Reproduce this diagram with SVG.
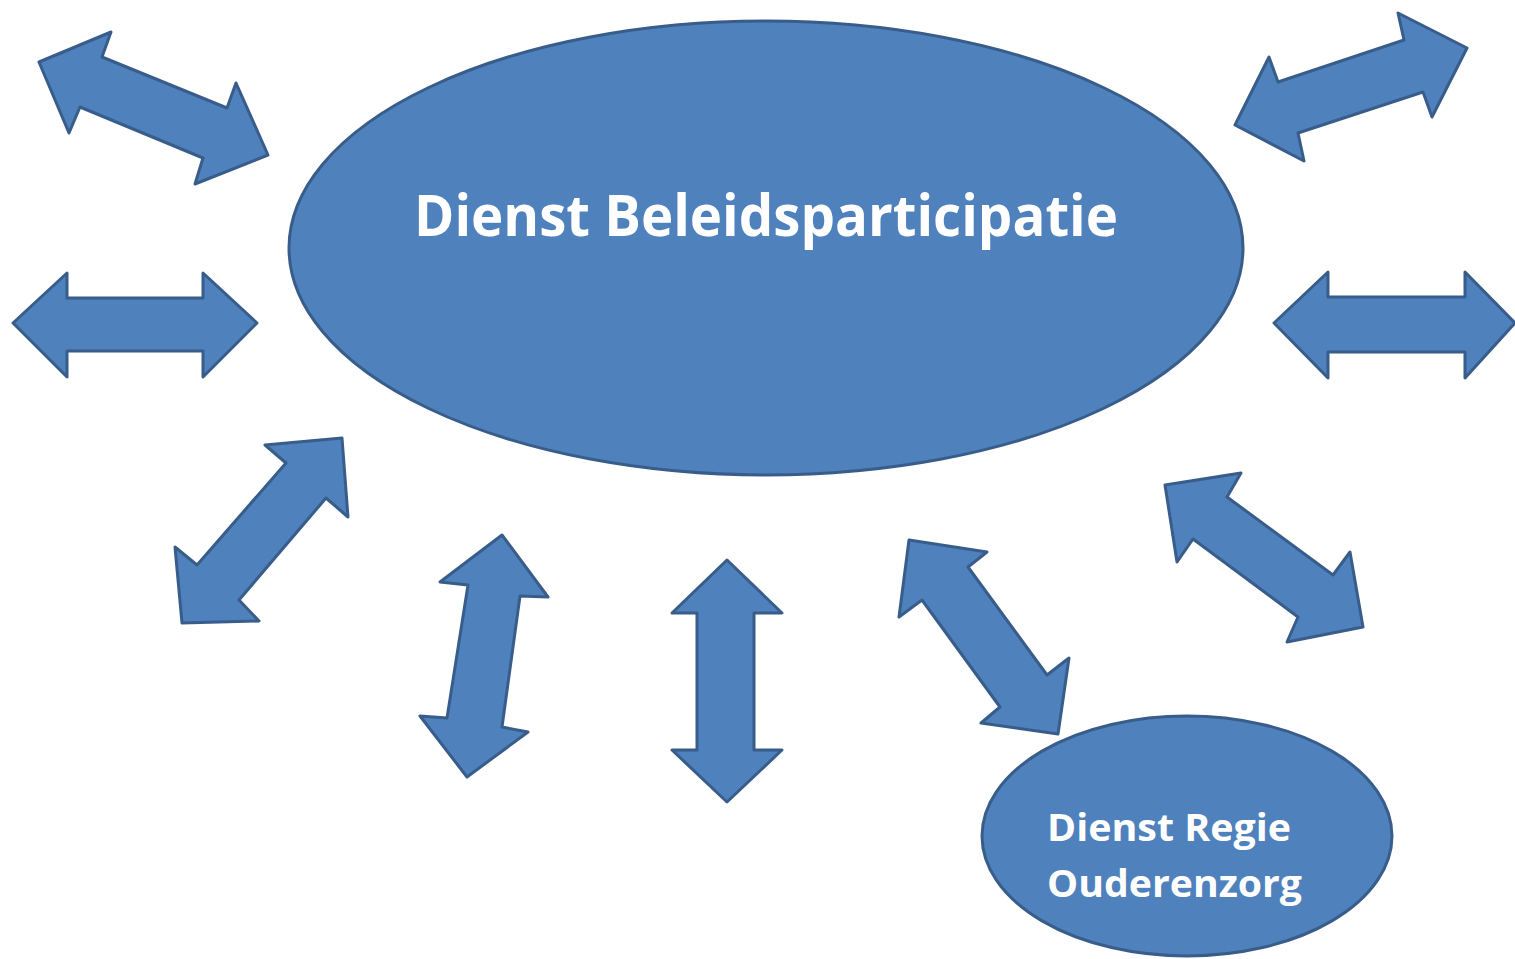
<svg xmlns="http://www.w3.org/2000/svg" width="1515" height="959" viewBox="0 0 1515 959">
<style>
.shape{fill:#4f81bd;stroke:#385d8a;stroke-width:3;stroke-linejoin:round}
.lbl{fill:#ffffff;font-family:"Open Sans","Liberation Sans",sans-serif;font-weight:bold}
</style>
<rect width="1515" height="959" fill="#ffffff"/>
<g id="connectors">
<polygon class="shape" points="39,62 111,32 102,57 227,108 236,83 268,155 195,184 203,158 80,107 69,133"/>
<polygon class="shape" points="13,323 67,273 67,298 203,298 203,273 257,323 203,377 203,351 67,351 67,377"/>
<polygon class="shape" points="342,438 348,517 326,498 239,600 259,621 182,623 175,547 197,565 286,463 265,445"/>
<polygon class="shape" points="502,535 548,597 520,596 502,727 528,732 467,777 420,716 447,718 468,585 440,582"/>
<polygon class="shape" points="727,560 782,613 754,613 754,750 782,750 727,802 672,750 697,750 697,613 672,613"/>
<polygon class="shape" points="909,540 987,552 968,567 1047,675 1069,658 1058,734 981,723 1000,707 922,600 899,617"/>
<polygon class="shape" points="1165,485 1241,473 1227,497 1333,575 1350,552 1363,627 1287,642 1298,617 1193,539 1177,562"/>
<polygon class="shape" points="1274,323 1328,272 1328,297 1465,297 1465,272 1515,323 1465,378 1465,352 1328,352 1328,378"/>
<polygon class="shape" points="1235,125 1269,57 1278,82 1404,40 1398,13 1467,48 1432,117 1423,92 1298,133 1304,161"/>
</g>
<g id="node-beleidsparticipatie">
<ellipse class="shape" cx="766" cy="248" rx="477" ry="227"/>
<text class="lbl" x="414" y="236" font-size="58" textLength="704" lengthAdjust="spacingAndGlyphs">Dienst Beleidsparticipatie</text>
</g>
<g id="node-regie-ouderenzorg">
<ellipse class="shape" cx="1187" cy="836" rx="205" ry="120"/>
<text class="lbl" x="1047" y="841" font-size="38" textLength="244" lengthAdjust="spacingAndGlyphs">Dienst Regie</text>
<text class="lbl" x="1047" y="897" font-size="38" textLength="255" lengthAdjust="spacingAndGlyphs">Ouderenzorg</text>
</g>
</svg>
